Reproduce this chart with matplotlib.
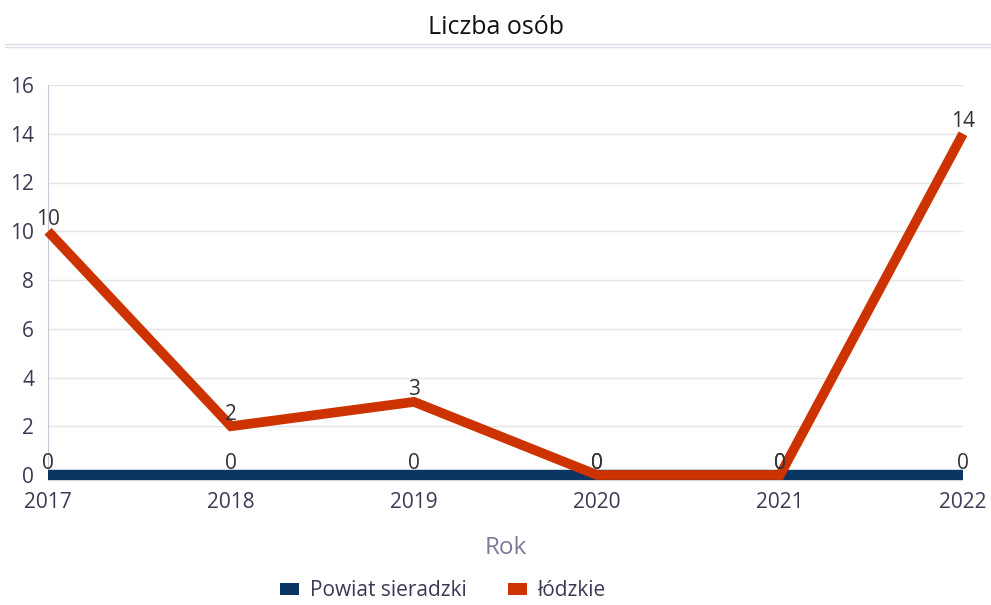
# %% load libraries
import matplotlib.pyplot as plt
from matplotlib.patches import Patch
from matplotlib.lines import Line2D

# %% data
years = ['2017', '2018', '2019', '2020', '2021', '2022']
powiat = [0, 0, 0, 0, 0, 0]
lodzkie = [10, 2, 3, 0, 0, 14]
series_names = ['Powiat sieradzki', 'łódzkie']
colors = ['#0b3563', '#cc3300']

plt.rcParams['font.family'] = ['Open Sans', 'DejaVu Sans']

# %% figure
fig = plt.figure(figsize=(9.91, 6.05), dpi=100)
ax = fig.add_axes([48 / 991, 1 - 475 / 605, 915 / 991, 390 / 605])

x = list(range(len(years)))
ax.plot(x, powiat, color=colors[0], lw=7.5, solid_capstyle='butt', zorder=3,
        clip_on=False)
ax.plot(x, lodzkie, color=colors[1], lw=7, solid_joinstyle='miter',
        solid_capstyle='butt', zorder=4, clip_on=False)

for series in (powiat, lodzkie):
    for xi, v in zip(x, series):
        ax.annotate(str(v), (xi, v), xytext=(0, 1), textcoords='offset points',
                    ha='center', va='bottom', fontsize=15, color='#333333',
                    zorder=5)

ax.set_xlim(0, len(years) - 1)
ax.set_ylim(0, 16)
ax.set_yticks(range(0, 17, 2))
ax.set_xticks(x)
ax.set_xticklabels(years)
ax.tick_params(axis='both', length=0, labelsize=15, labelcolor='#3a3a55')
ax.tick_params(axis='y', pad=10)
ax.tick_params(axis='x', pad=12)
ax.grid(axis='y', color='#e3e3e8', lw=1)
ax.set_axisbelow(True)
for s in ['top', 'right', 'bottom']:
    ax.spines[s].set_visible(False)
ax.spines['left'].set_color('#c8c8da')
ax.set_xlabel('Rok', fontsize=17.5, color='#7a7a9c', labelpad=17)

# title and separator lines
fig.text(0.5, 1 - 27 / 605, 'Liczba osób', ha='center', va='center',
         fontsize=18, color='#111111')
for yy in (44, 47):
    fig.add_artist(Line2D([5 / 991, 1], [1 - yy / 605] * 2, color='#dcdce6',
                          lw=1))

handles = [Patch(facecolor=c, edgecolor='none') for c in colors]
fig.legend(handles, series_names, loc='center', bbox_to_anchor=(0.447, 1 - 591 / 605),
           ncol=2, frameon=False, fontsize=15, handlelength=0.9, handleheight=0.5,
           columnspacing=2.0, handletextpad=0.5, labelcolor='#3a3a55')

plt.savefig('out.png', dpi=100)
